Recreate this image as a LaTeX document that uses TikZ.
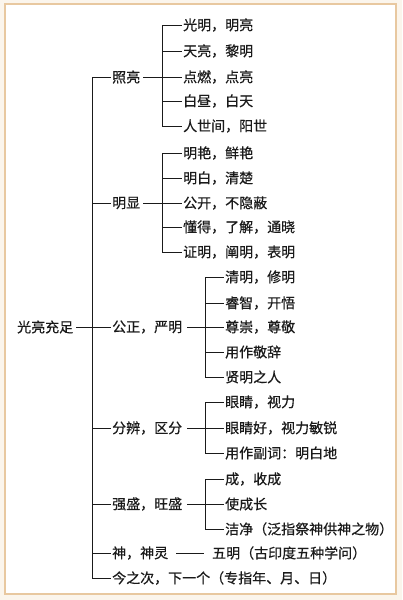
\documentclass[tikz,border=0pt]{standalone}
\usepackage{fontspec}
\newfontfamily\cjk[FakeBold=0.5]{Noto Sans CJK SC}
\definecolor{framec}{HTML}{E8C8A0}
\definecolor{bgc}{HTML}{FBF5EC}
\definecolor{inkc}{HTML}{1A1A1A}
\begin{document}
\begin{tikzpicture}[x=1pt,y=-1pt,
  t/.style={anchor=west, inner sep=1pt, text=inkc, font=\cjk\fontsize{14}{16}\selectfont},
  ln/.style={draw=inkc, line width=1pt},
  pl/.style={ln, shorten <=2pt}]
\useasboundingbox (0,0) rectangle (402,600);
\fill[bgc] (0,0) rectangle (402,600);
\draw[framec, line width=2pt, fill=white] (5,4) rectangle (396,594);

% root
\node[t] (r) at (16,327) {光亮充足};
% level 1
\node[t] (a) at (111,77) {照亮};
\node[t] (b) at (111,203) {明显};
\node[t] (c) at (111,327) {公正，严明};
\node[t] (d) at (111,428) {分辨，区分};
\node[t] (e) at (111,504) {强盛，旺盛};
\node[t] (f) at (111,553) {神，神灵};
\node[t] (g) at (111,578) {今之次，下一个（专指年、月、日）};
% level 2
\node[t] (a1) at (182,25) {光明，明亮};
\node[t] (a2) at (182,51) {天亮，黎明};
\node[t] (a3) at (182,77) {点燃，点亮};
\node[t] (a4) at (182,101) {白昼，白天};
\node[t] (a5) at (182,126) {人世间，阳世};
\node[t] (b1) at (182,153) {明艳，鲜艳};
\node[t] (b2) at (182,178) {明白，清楚};
\node[t] (b3) at (182,203) {公开，不隐蔽};
\node[t] (b4) at (182,227) {懂得，了解，通晓};
\node[t] (b5) at (182,252) {证明，阐明，表明};
\node[t] (c1) at (224,277) {清明，修明};
\node[t] (c2) at (224,303) {睿智，开悟};
\node[t] (c3) at (224,327) {尊崇，尊敬};
\node[t] (c4) at (224,352) {用作敬辞};
\node[t] (c5) at (224,377) {贤明之人};
\node[t] (d1) at (224,402) {眼睛，视力};
\node[t] (d2) at (224,428) {眼睛好，视力敏锐};
\node[t] (d3) at (224,453) {用作副词：明白地};
\node[t] (e1) at (224,479) {成，收成};
\node[t] (e2) at (224,504) {使成长};
\node[t] (e3) at (224,529) {洁净（泛指祭神供神之物）};
\node[t] (f1) at (211,553) {五明（古印度五种学问）};

% junctions
\coordinate (J0) at (92,327);
\coordinate (JA) at (162,77);
\coordinate (JB) at (162,203);
\coordinate (JC) at (205,327);
\coordinate (JD) at (205,428);
\coordinate (JE) at (205,504);

\draw[pl] (r.east) -- (J0);
\foreach \n in {a,b,c,d,e,f,g} \draw[ln] (J0) |- (\n.west);

\draw[pl] (a.east) -- (JA);
\foreach \n in {a1,a2,a3,a4,a5} \draw[ln] (JA) |- (\n.west);
\draw[pl] (b.east) -- (JB);
\foreach \n in {b1,b2,b3,b4,b5} \draw[ln] (JB) |- (\n.west);
\draw[pl, shorten <=4pt] (c.east) -- (JC);
\foreach \n in {c1,c2,c3,c4,c5} \draw[ln] (JC) |- (\n.west);
\draw[pl, shorten <=4pt] (d.east) -- (JD);
\foreach \n in {d1,d2,d3} \draw[ln] (JD) |- (\n.west);
\draw[pl, shorten <=4pt] (e.east) -- (JE);
\foreach \n in {e1,e2,e3} \draw[ln] (JE) |- (\n.west);
\draw[ln, shorten <=7pt, shorten >=7pt] (f.east) -- (f1.west);
\end{tikzpicture}
\end{document}
